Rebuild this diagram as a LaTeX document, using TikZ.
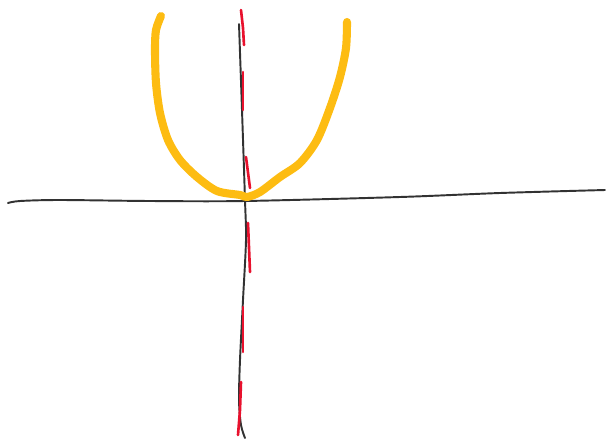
\documentclass[tikz,border=0pt]{standalone}
\usepackage{tikz}
\usetikzlibrary{calc}
\definecolor{sketchyellow}{RGB}{253,188,18}
\definecolor{sketchred}{RGB}{232,17,45}
\definecolor{sketchgray}{RGB}{50,50,50}

\begin{document}
\begin{tikzpicture}[x=0.02cm, y=-0.02cm, line cap=round, line join=round]
            \useasboundingbox (0,0) rectangle (606,440);
            \draw[sketchgray, line width=1.1pt] plot[smooth] coordinates {(8,203) (20,201) (60,200) (150,201) (245,201) (400,197) (500,193) (605,190)};
            \draw[sketchgray, line width=1.1pt] plot[smooth] coordinates {(239,24) (242,110) (245,200) (246,240) (243,300) (240,360) (239,400) (241,425) (245,438)};
            \draw[sketchyellow, line width=4.6pt] plot[smooth] coordinates {(161,16) (156,30) (155,50) (156,83) (160,113) (168,140) (180,160) (197,177) (217,191) (240,195) (247,197) (260,192) (280,177) (300,163) (317,140) (330,108) (340,77) (346,48) (347,22)};
            \draw[sketchred, line width=1.5pt] (241,10) -- (243,28) -- (244,45);
            \draw[sketchred, line width=1.5pt] (243,72) -- (243,110);
            \draw[sketchred, line width=1.5pt] (246,157) -- (250,188);
            \draw[sketchred, line width=1.5pt] (248,223) -- (250,272);
            \draw[sketchred, line width=1.5pt] (243,307) -- (243,352);
            \draw[sketchred, line width=1.5pt] (241,382) -- (240,410) -- (238,435);
        \end{tikzpicture}
\end{document}
